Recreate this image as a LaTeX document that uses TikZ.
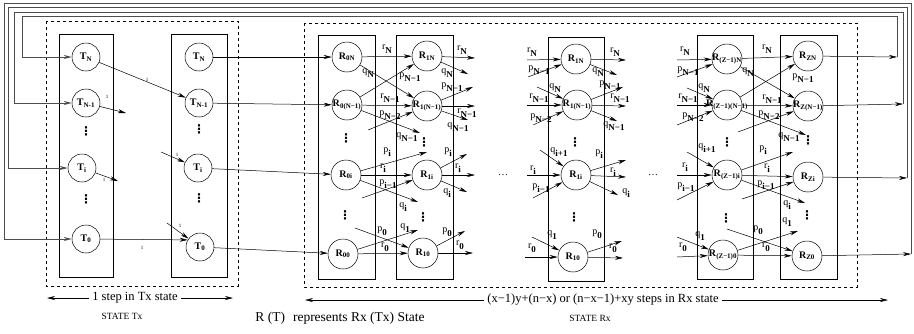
\documentclass[tikz,border=0pt]{standalone}
\usepackage{fontspec}
\setmainfont{Liberation Serif}
\newfontfamily\symfont{DejaVu Sans}
\usetikzlibrary{arrows.meta}

\newcommand{\tlab}[1]{\makebox[0pt]{\textbf{T}\textsubscript{\textbf{#1}}}}
\newcommand{\rlab}[1]{\makebox[0pt]{\textbf{R}\textsubscript{\textbf{#1}}}}
\newcommand{\elab}[2]{#1\raisebox{-4pt}{\small\bfseries #2}}

\begin{document}
\begin{tikzpicture}[x=1pt,y=-1pt,>={Stealth[length=8pt,width=4pt]},line width=0.5pt,
  tnode/.style={circle,draw,minimum size=28pt,inner sep=0pt},
  rnode/.style={circle,draw,minimum size=30pt,inner sep=0pt},
  vdot/.style={inner sep=0pt,font=\symfont\bfseries\fontsize{12}{12}\selectfont},
  el/.style={font=\normalsize,inner sep=0pt},
  one/.style={font=\tiny,inner sep=0pt},
  fb/.style={line width=0.9pt,black!70},
  captext/.style={font=\fontsize{12.5}{15}\selectfont},
  statetext/.style={font=\fontsize{9.5}{11}\selectfont}]
  \useasboundingbox (0,0) rectangle (914,333);

  % Tx state
  \draw[dashed] (46,21) rectangle (238,286);
  \draw (59,34) rectangle (113,277);
  \draw (171,34) rectangle (227,277);
  \node[tnode] (t1N) at (86,57) {\tlab{N}};
  \node[tnode] (t1M) at (86,103) {\tlab{N-1}};
  \node[vdot] (t1d1) at (86,131) {⋮};
  \node[tnode] (t1i) at (82,168) {\tlab{i}};
  \node[vdot] (t1d2) at (86,199) {⋮};
  \node[tnode] (t10) at (86,239) {\tlab{0}};
  \node[tnode] (t2N) at (199,57) {\tlab{N}};
  \node[tnode] (t2M) at (199,103) {\tlab{N-1}};
  \node[vdot] (t2d1) at (199,129) {⋮};
  \node[tnode] (t2i) at (198,168) {\tlab{i}};
  \node[vdot] (t2d2) at (199,198) {⋮};
  \node[tnode] (t20) at (200,247) {\tlab{0}};
  \coordinate (sT1) at (126,113); \coordinate (sT2) at (161,152);
  \coordinate (sT3) at (118,181); \coordinate (sT4) at (167,223);
  \draw[->] (t1N) -- (t2M); \draw[->] (t1M) -- (sT1); \draw[->] (sT2) -- (t2i);
  \draw[->] (t1i) -- (sT3); \draw[->] (sT4) -- (t20); \draw[->] (t10) -- (t20.150);
  \node[one] (n1) at (147,80) {1};
  \node[one] (n2) at (107,97) {1};
  \node[one] (n3) at (177,155) {1};
  \node[one] (n4) at (104,180) {1};
  \node[one] (n5) at (180,226) {1};
  \node[one] (n6) at (142,248) {1};

  % Rx state
  \draw[dashed] (304,23) rectangle (857,287);
  \draw (318,35) rectangle (375,279);
  \draw (396,35) rectangle (453,279);
  \draw (548,37) rectangle (604,281);
  \draw (697,35) rectangle (753,279);
  \draw (780,35) rectangle (837,279);

  \node[rnode] (aN) at (347,57) {\rlab{0N}};
  \node[rnode] (aM) at (347,105) {\rlab{0(N−1)}};
  \node[vdot] (ad1) at (346,138) {⋮};
  \node[rnode] (ai) at (346,175) {\rlab{0i}};
  \node[vdot] (ad2) at (345,215) {⋮};
  \node[rnode] (a0) at (343,254) {\rlab{00}};

  \node[rnode] (bN) at (427,56) {\rlab{1N}};
  \node[rnode] (bM) at (427,106) {\rlab{1(N−1)}};
  \node[vdot] (bd1) at (424,142) {⋮};
  \node[rnode] (bi) at (427,175) {\rlab{1i}};
  \node[vdot] (bd2) at (423,217) {⋮};
  \node[rnode] (b0) at (423,253) {\rlab{10}};

  \node[rnode] (cN) at (576,59) {\rlab{1N}};
  \node[rnode] (cM) at (577,105) {\rlab{1(N−1)}};
  \node[vdot] (cd1) at (575,142) {⋮};
  \node[rnode] (ci) at (576,175) {\rlab{1i}};
  \node[vdot] (cd2) at (574,217) {⋮};
  \node[rnode] (c0) at (573,257) {\rlab{10}};

  \node[rnode] (dN) at (727,59) {\rlab{(Z−1)N}};
  \node[rnode] (dM) at (727,105) {\rlab{(Z−1)(N−1)}};
  \node[vdot] (dd1) at (727,142) {⋮};
  \node[rnode] (di) at (727,175) {\rlab{(Z−1)i}};
  \node[vdot] (dd2) at (726,218) {⋮};
  \node[rnode] (d0) at (723,255) {\rlab{(Z−1)0}};

  \node[rnode] (eN) at (808,56) {\rlab{ZN}};
  \node[rnode] (eM) at (808,106) {\rlab{Z(N−1)}};
  \node[vdot] (ed1) at (808,140) {⋮};
  \node[rnode] (ei) at (808,177) {\rlab{Zi}};
  \node[vdot] (ed2) at (807,215) {⋮};
  \node[rnode] (e0) at (807,256) {\rlab{Z0}};

  \node (hd1) at (503,175) {\dots};
  \node (hd2) at (653,175) {\dots};

  % Tx -> Rx
  \draw[->] (t2N) -- (aN); \draw[->] (t2M) -- (aM);
  \draw[->] (t2i) -- (ai); \draw[->] (t20) -- (a0);

  % R0 -> R1
  \coordinate (sab1) at (368,130); \coordinate (sab2) at (420,133);
  \coordinate (sab3) at (427,152); \coordinate (sab4) at (362,198);
  \coordinate (sab5) at (418,202); \coordinate (sab6) at (355,228);
  \coordinate (sab7) at (418,230);
  \draw[->] (aN) -- (bN); \draw[->] (aN) -- (bM); \draw[->] (aM) -- (bN); \draw[->] (aM) -- (bM);
  \draw[->] (sab1) -- (bM); \draw[->] (aM) -- (sab2); \draw[->] (ai) -- (sab3);
  \draw[->] (ai) -- (bi); \draw[->] (sab4) -- (bi); \draw[->] (ai) -- (sab5);
  \draw[->] (sab6) -- (b0); \draw[->] (a0) -- (sab7); \draw[->] (a0) -- (b0);
  \node[el] (LarN) at (387,49) {\elab{r}{N}};
  \node[el] (LaqN) at (368,73) {\elab{q}{N}};
  \node[el] (LapN) at (410,77) {\elab{p}{N−1}};
  \node[el] (LarM) at (390,98) {\elab{r}{N−1}};
  \node[el] (LapM) at (390,115) {\elab{p}{N−2}};
  \node[el] (LaqM) at (407,137) {\elab{q}{N−1}};
  \node[el] (Lapi) at (387,152) {\elab{p}{i}};
  \node[el] (Lari) at (383,168) {\elab{r}{i}};
  \node[el] (Lapj) at (388,184) {\elab{p}{i−1}};
  \node[el] (Laqi) at (403,207) {\elab{q}{i}};
  \node[el] (Lap0) at (382,231) {\elab{p}{0}};
  \node[el] (Laq1) at (405,228) {\elab{q}{1}};
  \node[el] (Lar0) at (385,247) {\elab{r}{0}};

  % R1 out
  \coordinate (sb1) at (475,58); \coordinate (sb2) at (468,74);
  \coordinate (sb3) at (473,87); \coordinate (sb4) at (475,106);
  \coordinate (sb5) at (468,120); \coordinate (sb6) at (467,154);
  \coordinate (sb7) at (475,175); \coordinate (sb8) at (467,192);
  \coordinate (sb9) at (465,231); \coordinate (sb10) at (473,253);
  \draw[->] (bN) -- (sb1); \draw[->] (bN) -- (sb2); \draw[->] (bM) -- (sb3);
  \draw[->] (bM) -- (sb4); \draw[->] (bM) -- (sb5); \draw[->] (bi) -- (sb6);
  \draw[->] (bi) -- (sb7); \draw[->] (bi) -- (sb8); \draw[->] (b0) -- (sb9);
  \draw[->] (b0) -- (sb10);
  \node[el] (LbrN) at (462,50) {\elab{r}{N}};
  \node[el] (LbqN) at (447,73) {\elab{q}{N}};
  \node[el] (LbpM) at (452,87) {\elab{p}{N−1}};
  \node[el] (LbrM) at (467,113) {\elab{r}{N−1}};
  \node[el] (LbqM) at (458,127) {\elab{q}{N−1}};
  \node[el] (Lbpi) at (448,152) {\elab{p}{i}};
  \node[el] (Lbri) at (458,168) {\elab{r}{i}};
  \node[el] (Lbqi) at (447,193) {\elab{q}{i}};
  \node[el] (Lbp0) at (447,232) {\elab{p}{0}};
  \node[el] (Lbr0) at (460,245) {\elab{r}{0}};

  % middle column in
  \coordinate (sc1) at (527,60); \coordinate (sc2) at (528,77);
  \coordinate (sc3) at (537,87); \coordinate (sc4) at (527,105);
  \coordinate (sc5) at (533,125); \coordinate (sc6) at (540,150);
  \coordinate (sc7) at (527,175); \coordinate (sc8) at (533,198);
  \coordinate (sc9) at (532,237); \coordinate (sc10) at (525,257);
  \draw[->] (sc1) -- (cN); \draw[->] (sc2) -- (cN); \draw[->] (sc3) -- (cM);
  \draw[->] (sc4) -- (cM); \draw[->] (sc5) -- (cM); \draw[->] (sc6) -- (ci);
  \draw[->] (sc7) -- (ci); \draw[->] (sc8) -- (ci); \draw[->] (sc9) -- (c0);
  \draw[->] (sc10) -- (c0);
  \node[el] (LcrN) at (532,52) {\elab{r}{N}};
  \node[el] (LcpN) at (539,70) {\elab{p}{N−1}};
  \node[el] (LcqN) at (555,88) {\elab{q}{N}};
  \node[el] (LcrM) at (539,98) {\elab{r}{N−1}};
  \node[el] (LcpM) at (541,118) {\elab{p}{N−2}};
  \node[el] (Lcqi) at (559,152) {\elab{q}{i+1}};
  \node[el] (Lcri) at (533,170) {\elab{r}{i}};
  \node[el] (Lcpj) at (541,188) {\elab{p}{i−1}};
  \node[el] (Lcq1) at (552,235) {\elab{q}{1}};
  \node[el] (Lcr0) at (532,248) {\elab{r}{0}};

  % middle column out
  \coordinate (sco1) at (626,60); \coordinate (sco2) at (617,75);
  \coordinate (sco3) at (623,87); \coordinate (sco4) at (626,106);
  \coordinate (sco5) at (617,121); \coordinate (sco6) at (626,160);
  \coordinate (sco7) at (626,177); \coordinate (sco8) at (618,195);
  \coordinate (sco9) at (622,241); \coordinate (sco10) at (623,258);
  \draw[->] (cN) -- (sco1); \draw[->] (cN) -- (sco2); \draw[->] (cM) -- (sco3);
  \draw[->] (cM) -- (sco4); \draw[->] (cM) -- (sco5); \draw[->] (ci) -- (sco6);
  \draw[->] (ci) -- (sco7); \draw[->] (ci) -- (sco8); \draw[->] (c0) -- (sco9);
  \draw[->] (c0) -- (sco10);
  \node[el] (LorN) at (615,52) {\elab{r}{N}};
  \node[el] (LoqN) at (598,72) {\elab{q}{N}};
  \node[el] (LopM) at (610,85) {\elab{p}{N−1}};
  \node[el] (LorM) at (620,98) {\elab{r}{N−1}};
  \node[el] (LoqM) at (614,126) {\elab{q}{N−1}};
  \node[el] (Lopi) at (599,154) {\elab{p}{i}};
  \node[el] (Lori) at (613,172) {\elab{r}{i}};
  \node[el] (Loqi) at (626,193) {\elab{q}{i}};
  \node[el] (Lop0) at (597,234) {\elab{p}{0}};
  \node[el] (Lor0) at (613,248) {\elab{r}{0}};

  % R(Z-1) in
  \coordinate (sd1) at (677,60); \coordinate (sd2) at (677,77);
  \coordinate (sd3) at (687,88); \coordinate (sd4) at (677,105);
  \coordinate (sd5) at (677,125); \coordinate (sd6) at (687,152);
  \coordinate (sd7) at (677,175); \coordinate (sd8) at (677,200);
  \coordinate (sd9) at (677,237); \coordinate (sd10) at (677,257);
  \draw[->] (sd1) -- (dN); \draw[->] (sd2) -- (dN); \draw[->] (sd3) -- (dM);
  \draw[->] (sd4) -- (dM); \draw[->] (sd5) -- (dM); \draw[->] (sd6) -- (di);
  \draw[->] (sd7) -- (di); \draw[->] (sd8) -- (di); \draw[->] (sd9) -- (d0);
  \draw[->] (sd10) -- (d0);
  \node[el] (LdrN) at (685,51) {\elab{r}{N}};
  \node[el] (LdpN) at (688,71) {\elab{p}{N−1}};
  \node[el] (LdqN) at (704,88) {\elab{q}{N}};
  \node[el] (LdrM) at (688,98) {\elab{r}{N−1}};
  \node[el] (LdpM) at (693,117) {\elab{p}{N−2}};
  \node[el] (Ldqi) at (707,148) {\elab{q}{i+1}};
  \node[el] (Ldri) at (685,167) {\elab{r}{i}};
  \node[el] (Ldpj) at (686,187) {\elab{p}{i−1}};
  \node[el] (Ldq1) at (700,236) {\elab{q}{1}};
  \node[el] (Ldr0) at (683,247) {\elab{r}{0}};

  % R(Z-1) -> RZ
  \coordinate (sde1) at (738,132); \coordinate (sde2) at (806,135);
  \coordinate (sde3) at (793,152); \coordinate (sde4) at (742,199);
  \coordinate (sde5) at (805,203); \coordinate (sde6) at (727,229);
  \coordinate (sde7) at (798,231);
  \draw[->] (dN) -- (eN); \draw[->] (dN) -- (eM); \draw[->] (dM) -- (eN); \draw[->] (dM) -- (eM);
  \draw[->] (sde1) -- (eM); \draw[->] (dM) -- (sde2); \draw[->] (di) -- (sde3);
  \draw[->] (di) -- (ei); \draw[->] (sde4) -- (ei); \draw[->] (di) -- (sde5);
  \draw[->] (sde6) -- (e0); \draw[->] (d0) -- (sde7); \draw[->] (d0) -- (e0);
  \node[el] (LerN) at (767,49) {\elab{r}{N}};
  \node[el] (LeqN) at (748,72) {\elab{q}{N}};
  \node[el] (LepN) at (803,78) {\elab{p}{N−1}};
  \node[el] (LerM) at (772,99) {\elab{r}{N−1}};
  \node[el] (LepM) at (769,115) {\elab{p}{N−2}};
  \node[el] (LeqM) at (789,137) {\elab{q}{N−1}};
  \node[el] (Lepi) at (763,150) {\elab{p}{i}};
  \node[el] (Leri) at (767,168) {\elab{r}{i}};
  \node[el] (Lepj) at (766,185) {\elab{p}{i−1}};
  \node[el] (Leqi) at (787,205) {\elab{q}{i}};
  \node[el] (Lep0) at (758,230) {\elab{p}{0}};
  \node[el] (Leq1) at (787,222) {\elab{q}{1}};
  \node[el] (Ler0) at (766,247) {\elab{r}{0}};

  % feedback RZ -> T
  \coordinate (fbN) at (897,57); \coordinate (fbM) at (903,104);
  \coordinate (fbi) at (907,178); \coordinate (fb0) at (911,254);
  \coordinate (upN) at (22,16); \coordinate (upM) at (14,12);
  \coordinate (upi) at (8,7); \coordinate (up0) at (4,3);
  \draw[->] (eN) -- (fbN); \draw[fb,->] (fbN) |- (upN) |- (t1N);
  \draw[->] (eM) -- (fbM); \draw[fb,->] (fbM) |- (upM) |- (t1M);
  \draw[->] (ei) -- (fbi); \draw[fb,->] (fbi) |- (upi) |- (t1i);
  \draw[->] (e0) -- (fb0); \draw[fb,->] (fb0) |- (up0) |- (t10);

  % captions
  \node[captext] (steptx) at (135,298) {1 step in Tx state};
  \coordinate (txL) at (47,298); \coordinate (txR) at (233,298);
  \draw[->] (steptx) -- (txL); \draw[->] (steptx) -- (txR);
  \node[statetext] (statetx) at (122,316) {STATE Tx};
  \node[captext,font=\fontsize{13.5}{16}\selectfont] (legend) at (340,318) {R (T)\hspace{8pt}represents Rx (Tx) State};
  \node[captext] (steprx) at (603,300) {(x−1)y+(n−x) or (n−x−1)+xy steps in Rx state};
  \coordinate (rxL) at (305,300); \coordinate (rxR) at (888,300);
  \draw[->] (steprx) -- (rxL); \draw[->] (steprx) -- (rxR);
  \node[statetext] (staterx) at (590,318) {STATE Rx};
\end{tikzpicture}
\end{document}
